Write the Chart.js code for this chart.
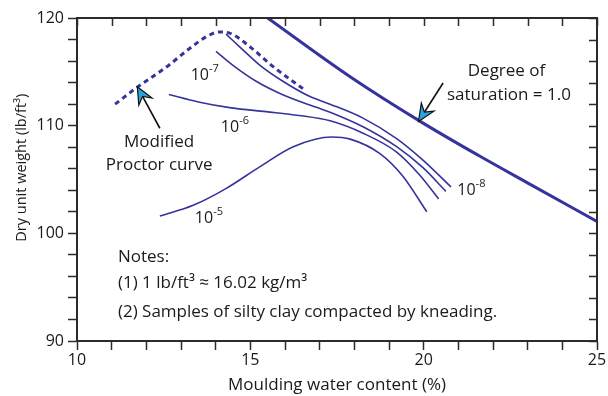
<!DOCTYPE html>
<html>
<head>
<meta charset="utf-8">
<script src="https://cdn.jsdelivr.net/npm/chart.js@4.4.1/dist/chart.umd.min.js"></script>
<style>
  html, body { margin: 0; padding: 0; background: #fff; }
</style>
</head>
<body>
<canvas id="chart" width="608" height="396"></canvas>
<script>
// moulding water content (%) and dry unit weight (lb/ft3) for each curve
var saturationW   = [15.5, 17.9, 19.9, 21.6, 23.1, 25.0];
var saturationDry = [120.0, 114.5, 110.4, 107.2, 104.5, 101.1];

var proctorW   = [11.1, 11.75, 12.6, 13.3, 13.75, 14.1, 14.4, 15.0, 15.65, 16.6];
var proctorDry = [112.0, 113.6, 115.5, 117.3, 118.3, 118.7, 118.6, 117.3, 115.5, 113.25];

var k8W   = [14.3, 14.7, 15.28, 15.95, 16.72, 17.3, 18.25, 19.22, 19.98, 20.79];
var k8Dry = [118.5, 117.3, 115.6, 114.1, 112.7, 112.0, 110.7, 108.8, 106.8, 104.3];

var k7W   = [14.01, 14.5, 15.18, 15.95, 16.91, 17.3, 18.25, 19.22, 19.98, 20.64];
var k7Dry = [116.9, 115.6, 114.1, 112.85, 111.7, 111.25, 109.9, 108.05, 106.1, 103.9];

var k6W   = [12.65, 13.5, 14.45, 15.45, 16.4, 17.3, 18.25, 19.22, 19.89, 20.43];
var k6Dry = [112.9, 112.2, 111.65, 111.3, 110.95, 110.45, 109.3, 107.55, 105.4, 103.2];

var k5W   = [12.39, 13.35, 14.32, 15.28, 16.24, 17.35, 17.88, 18.74, 19.4, 20.09];
var k5Dry = [101.6, 102.6, 104.2, 106.2, 108.05, 108.95, 108.75, 107.4, 105.3, 102.0];

var xTickLabels = [10, 15, 20, 25];
var yTickLabels = [90, 100, 110, 120];

var lineColor = '#34349c';
var axisColor = '#2b2b2b';
var arrowFill = '#27a6dd';
var fontFamily = '"Open Sans", Lato, sans-serif';

Chart.defaults.font.family = fontFamily;
Chart.defaults.color = '#1a1a1a';

function pts(ws, ys) {
  return ws.map(function (w, i) { return { x: w, y: ys[i] }; });
}

function curve(label, ws, ys, width, dash) {
  return {
    label: label,
    data: pts(ws, ys),
    borderColor: lineColor,
    borderWidth: width,
    borderDash: dash || [],
    pointRadius: 0,
    fill: false,
    cubicInterpolationMode: 'monotone'
  };
}

// frame on top/right with inward ticks, the y title, and the text and arrows on the plot
var notesPlugin = {
  id: 'notes',
  afterDraw: function (chart) {
    var ctx = chart.ctx, a = chart.chartArea;
    var xs = chart.scales.x, ys = chart.scales.y;
    var px = function (v) { return xs.getPixelForValue(v); };
    var py = function (v) { return ys.getPixelForValue(v); };

    ctx.save();
    ctx.strokeStyle = axisColor;
    ctx.lineWidth = 2;
    ctx.beginPath();
    ctx.moveTo(a.left, a.top);
    ctx.lineTo(a.right, a.top);
    ctx.lineTo(a.right, a.bottom);
    ctx.stroke();

    ctx.lineWidth = 1.5;
    ctx.beginPath();
    xs.ticks.forEach(function (t) {
      var p = Math.round(px(t.value)) + 0.5;
      ctx.moveTo(p, a.top);
      ctx.lineTo(p, a.top + 8);
    });
    ys.ticks.forEach(function (t) {
      var p = Math.round(py(t.value)) + 0.5;
      ctx.moveTo(a.right, p);
      ctx.lineTo(a.right - 8, p);
    });
    ctx.stroke();

    ctx.fillStyle = '#1a1a1a';

    // y axis title, a little above the middle of the axis
    ctx.save();
    ctx.translate(22, py(106.1));
    ctx.rotate(-Math.PI / 2);
    ctx.font = '14.5px ' + fontFamily;
    ctx.textAlign = 'center';
    ctx.textBaseline = 'middle';
    ctx.fillText('Dry unit weight (lb/ft\u00b3)', 0, 0);
    ctx.restore();

    ctx.textBaseline = 'alphabetic';

    function text(str, x, y, align) {
      ctx.font = '17px ' + fontFamily;
      ctx.textAlign = align;
      ctx.fillText(str, px(x), py(y));
    }
    function power(exp, x, y) {
      ctx.font = '16px ' + fontFamily;
      ctx.textAlign = 'left';
      var x0 = px(x), y0 = py(y);
      ctx.fillText('10', x0, y0);
      var w = ctx.measureText('10').width;
      ctx.font = '11px ' + fontFamily;
      ctx.fillText(exp, x0 + w, y0 - 8);
    }
    function arrow(x1, y1, x2, y2) {
      var sx = px(x1), sy = py(y1), tx = px(x2), ty = py(y2);
      var ang = Math.atan2(ty - sy, tx - sx);
      var len = 17, half = 7.5, notch = 11;
      var cos = Math.cos(ang), sin = Math.sin(ang);
      var bx = tx - len * cos, by = ty - len * sin;
      var nx = tx - notch * cos, ny = ty - notch * sin;
      ctx.strokeStyle = '#111';
      ctx.lineWidth = 1.6;
      ctx.beginPath();
      ctx.moveTo(sx, sy);
      ctx.lineTo(nx, ny);
      ctx.stroke();
      ctx.beginPath();
      ctx.moveTo(tx, ty);
      ctx.lineTo(bx - half * sin, by + half * cos);
      ctx.lineTo(nx, ny);
      ctx.lineTo(bx + half * sin, by - half * cos);
      ctx.closePath();
      ctx.fillStyle = arrowFill;
      ctx.fill();
      ctx.lineWidth = 1.2;
      ctx.stroke();
      ctx.fillStyle = '#1a1a1a';
    }

    power('-7', 13.28, 114.24);
    power('-6', 14.15, 109.44);
    power('-5', 13.40, 100.99);
    power('-8', 20.97, 103.56);

    text('Degree of', 22.39, 114.61, 'center');
    text('saturation = 1.0', 22.46, 112.38, 'center');
    text('Modified', 12.37, 108.05, 'center');
    text('Proctor curve', 12.37, 105.88, 'center');

    text('Notes:', 11.18, 97.34, 'left');
    text('(1) 1 lb/ft\u00b3 \u2248 16.02 kg/m\u00b3', 11.18, 94.92, 'left');
    text('(2) Samples of silty clay compacted by kneading.', 11.18, 92.23, 'left');

    arrow(20.56, 113.96, 19.85, 110.39);
    arrow(12.39, 109.76, 11.74, 113.62);

    ctx.restore();
  }
};

var config = {
  type: 'line',
  data: {
    datasets: [
      curve('Degree of saturation = 1.0', saturationW, saturationDry, 3),
      curve('Modified Proctor curve', proctorW, proctorDry, 3, [5, 4]),
      curve('1e-8', k8W, k8Dry, 1.6),
      curve('1e-7', k7W, k7Dry, 1.6),
      curve('1e-6', k6W, k6Dry, 1.6),
      curve('1e-5', k5W, k5Dry, 1.6)
    ]
  },
  options: {
    responsive: false,
    animation: false,
    devicePixelRatio: 1,
    layout: { padding: { top: 18, right: 11, left: 0, bottom: 0 } },
    plugins: { legend: { display: false }, tooltip: { enabled: false } },
    scales: {
      x: {
        type: 'linear',
        position: 'bottom',
        min: 10, max: 25,
        afterFit: function (s) { s.height = 55; },
        ticks: {
          stepSize: 1,
          autoSkip: false,
          maxRotation: 0,
          padding: 1,
          font: { size: 16 },
          color: '#1a1a1a',
          callback: function (v) { return xTickLabels.indexOf(v) >= 0 ? String(v) : ''; }
        },
        grid: { drawOnChartArea: false, tickLength: 9, tickWidth: 1.5, tickColor: axisColor },
        border: { color: axisColor, width: 2 },
        title: {
          display: true,
          text: 'Moulding water content (%)',
          font: { size: 17 },
          color: '#1a1a1a',
          padding: { top: 0, bottom: 1 }
        }
      },
      y: {
        min: 90, max: 120,
        afterFit: function (s) { s.width = 77; },
        ticks: {
          stepSize: 2,
          autoSkip: false,
          padding: 4,
          font: { size: 16 },
          color: '#1a1a1a',
          callback: function (v) { return yTickLabels.indexOf(v) >= 0 ? String(v) : ''; }
        },
        grid: { drawOnChartArea: false, tickLength: 9, tickWidth: 1.5, tickColor: axisColor },
        border: { color: axisColor, width: 2 }
      }
    }
  },
  plugins: [notesPlugin]
};

var myChart = new Chart(document.getElementById('chart'), config);
</script>
</body>
</html>
